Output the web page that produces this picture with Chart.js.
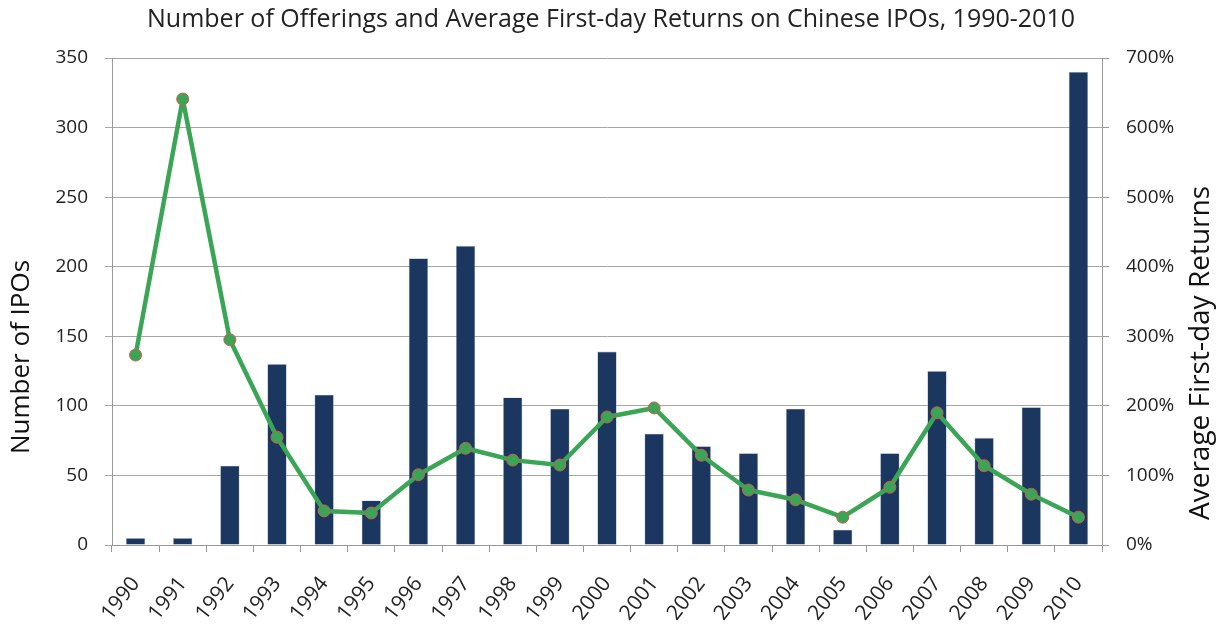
<!DOCTYPE html>
<html>
<head>
<meta charset="utf-8">
<script src="https://cdn.jsdelivr.net/npm/chart.js@4/dist/chart.umd.min.js"></script>
<style>
  html, body { margin: 0; padding: 0; background: #fff; }
  #wrap { width: 1222px; height: 625px; }
</style>
</head>
<body>
<div id="wrap"><canvas id="mycanvas" width="1222" height="625"></canvas></div>
<script>
var years = ['1990','1991','1992','1993','1994','1995','1996','1997','1998','1999','2000',
             '2001','2002','2003','2004','2005','2006','2007','2008','2009','2010'];
var ipoCounts = [5, 5, 57, 130, 108, 32, 206, 215, 106, 98, 139,
                 80, 71, 66, 98, 11, 66, 125, 77, 99, 340];
var avgReturns = [273, 641, 295, 155, 49, 46, 101, 139, 122, 115, 184,
                  197, 129, 79, 65, 40, 83, 190, 114, 73, 40];
var leftTicks = [0, 50, 100, 150, 200, 250, 300, 350];
var rightTicks = [0, 100, 200, 300, 400, 500, 600, 700];

var fontFam = "'Open Sans', sans-serif";

// axis titles drawn by hand so they sit lower, like the original
var axisTitles = {
	id: 'axisTitles',
	afterDraw: function(chart) {
		var ctx = chart.ctx;
		ctx.save();
		ctx.fillStyle = '#111';
		ctx.textAlign = 'center';
		ctx.textBaseline = 'middle';

		ctx.font = '26px ' + fontFam;
		ctx.translate(22, 357);
		ctx.rotate(-Math.PI / 2);
		ctx.fillText('Number of IPOs', 0, 0);
		ctx.restore();

		ctx.save();
		ctx.fillStyle = '#111';
		ctx.textAlign = 'center';
		ctx.textBaseline = 'middle';
		ctx.font = '28px ' + fontFam;
		ctx.translate(1201, 353);
		ctx.rotate(-Math.PI / 2);
		ctx.fillText('Average First-day Returns', 0, 0);
		ctx.restore();
	}
};

var chartdata = {
	labels: years,
	datasets: [
		{
			type: 'line',
			label: 'Average First-day Returns',
			data: avgReturns,
			yAxisID: 'yRight',
			borderColor: '#3aa655',
			borderWidth: 4.5,
			borderJoinStyle: 'round',
			pointBackgroundColor: '#3aa655',
			pointBorderColor: '#d25a4f',
			pointBorderWidth: 1,
			pointRadius: 6,
			tension: 0,
			order: 0
		},
		{
			type: 'bar',
			label: 'Number of IPOs',
			data: ipoCounts,
			yAxisID: 'yLeft',
			backgroundColor: '#1b375f',
			borderColor: '#a9b6c8',
			borderWidth: 0.6,
			categoryPercentage: 1,
			barPercentage: 0.41,
			order: 1
		}
	]
};

new Chart(document.getElementById('mycanvas'), {
	type: 'bar',
	data: chartdata,
	plugins: [axisTitles],
	options: {
		responsive: false,
		animation: false,
		layout: { padding: 0 },
		plugins: {
			legend: { display: false },
			tooltip: { enabled: false },
			title: {
				display: true,
				text: 'Number of Offerings and Average First-day Returns on Chinese IPOs, 1990-2010',
				color: '#222',
				font: { family: fontFam, size: 25, weight: 'normal', lineHeight: 1.2 },
				padding: { top: 5, bottom: 23 }
			}
		},
		scales: {
			x: {
				offset: true,
				afterFit: function(axis) { axis.height = 80; },
				grid: { offset: true, drawOnChartArea: false, color: '#999', tickLength: 7 },
				border: { color: '#999' },
				ticks: {
					color: '#222',
					font: { family: fontFam, size: 21 },
					maxRotation: 52,
					minRotation: 52,
					autoSkip: false,
					padding: 20
				}
			},
			yLeft: {
				position: 'left',
				min: 0,
				max: 350,
				afterFit: function(axis) { axis.width = 112; },
				afterBuildTicks: function(axis) { axis.ticks = leftTicks.map(function(v){ return { value: v }; }); },
				grid: { color: '#a6a6a6', tickLength: 7 },
				border: { color: '#999' },
				ticks: { color: '#222', font: { family: fontFam, size: 19 }, padding: 17 }
			},
			yRight: {
				position: 'right',
				min: 0,
				max: 700,
				afterFit: function(axis) { axis.width = 120; },
				afterBuildTicks: function(axis) { axis.ticks = rightTicks.map(function(v){ return { value: v }; }); },
				grid: { drawOnChartArea: false, color: '#999', tickLength: 7 },
				border: { color: '#999' },
				ticks: {
					color: '#222',
					font: { family: fontFam, size: 19 },
					padding: 17,
					callback: function(v) { return v + '%'; }
				}
			}
		}
	}
});
</script>
</body>
</html>
